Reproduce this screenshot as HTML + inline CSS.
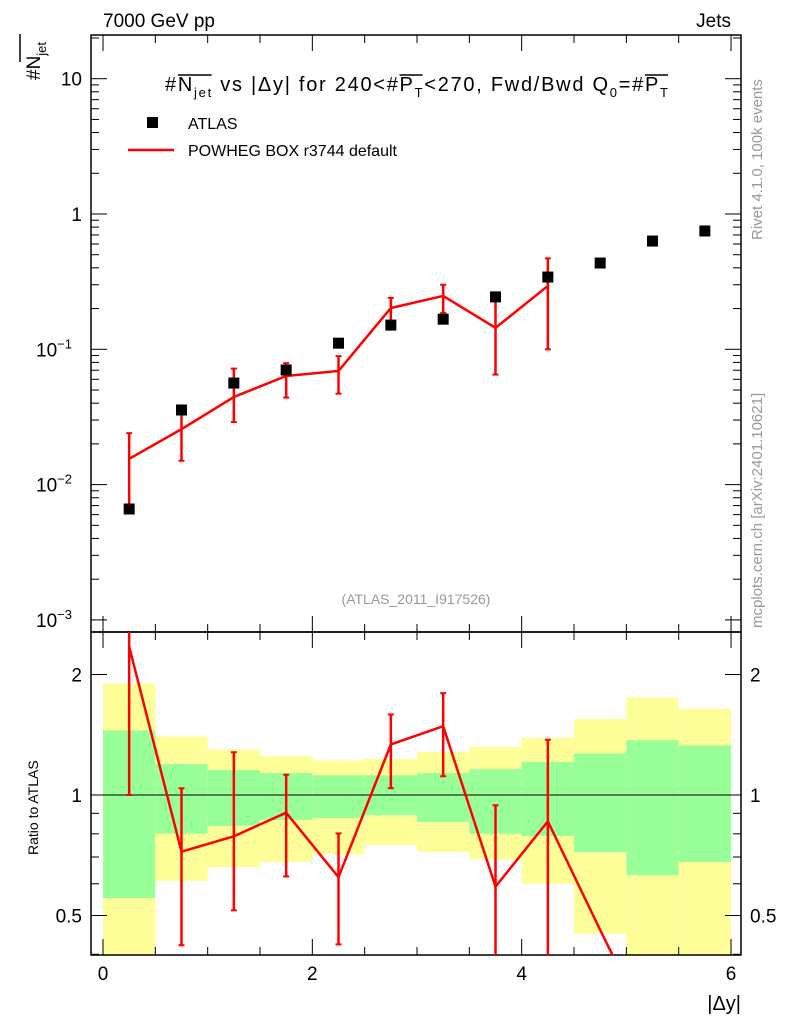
<!DOCTYPE html>
<html><head><meta charset="utf-8"><style>
body{margin:0;background:#fff;}
svg{display:block;font-family:"Liberation Sans",sans-serif;}
</style></head><body>
<svg id="c" width="786" height="1024" viewBox="0 0 786 1024"></svg>
<script>
const binCenters=[0.25,0.75,1.25,1.75,2.25,2.75,3.25,3.75,4.25,4.75,5.25,5.75];
const atlasValues=[0.0066,0.0356,0.0563,0.0703,0.111,0.151,0.167,0.244,0.342,0.434,0.631,0.749];
const mcValues=[0.0155,0.0257,0.0444,0.0635,0.0692,0.202,0.248,0.144,0.294];
const mcUp=[0.024,0.037,0.072,0.079,0.089,0.24,0.30,0.23,0.47];
const mcDown=[0.0066,0.015,0.029,0.044,0.047,0.157,0.186,0.065,0.10];
const ratioTail=[0.46,0.25];
const yellowUp=[1.90,1.40,1.30,1.25,1.22,1.23,1.28,1.32,1.39,1.55,1.75,1.64];
const yellowDown=[0.35,0.61,0.66,0.68,0.71,0.75,0.72,0.69,0.60,0.45,0.35,0.35];
const greenUp=[1.45,1.195,1.155,1.135,1.12,1.12,1.135,1.16,1.21,1.27,1.37,1.33];
const greenDown=[0.553,0.80,0.837,0.866,0.876,0.89,0.856,0.80,0.79,0.72,0.63,0.68];
const xTicks=[0,2,4,6];
const topTicks=[{v:10,t:"10"},{v:1,t:"1"},{v:0.1,t:"10",e:"−1"},{v:0.01,t:"10",e:"−2"},{v:0.001,t:"10",e:"−3"}];
const ratioTicks=[{v:2,t:"2"},{v:1,t:"1"},{v:0.5,t:"0.5"}];

const S=document.getElementById('c');const NS="http://www.w3.org/2000/svg";
function el(tag,a,p){const e=document.createElementNS(NS,tag);for(const k in a)e.setAttribute(k,a[k]);(p||S).appendChild(e);return e;}
const L=91,R=741,T=35,M=632,B=955;
const X=v=>103+v*104.67;
const Y=v=>214-Math.log10(v)*135.3;
const YR=v=>795-Math.log2(v)*120.5;
const defs=el('defs',{});
const cp1=el('clipPath',{id:'ct'},defs);el('rect',{x:L,y:T,width:R-L,height:M-T},cp1);
const cp2=el('clipPath',{id:'cr'},defs);el('rect',{x:L,y:M,width:R-L,height:B-M},cp2);

const bands=el('g',{'clip-path':'url(#cr)'});

binCenters.forEach((c,i)=>{
  const r1=el('rect',{x:X(c-0.25),y:YR(yellowUp[i]),width:X(c+0.25)-X(c-0.25),height:YR(yellowDown[i])-YR(yellowUp[i]),fill:'#ffff99'},bands);
  
  const r2=el('rect',{x:X(c-0.25),y:YR(greenUp[i]),width:X(c+0.25)-X(c-0.25),height:YR(greenDown[i])-YR(greenUp[i]),fill:'#99ff99'},bands);
  
});
el('line',{x1:L,x2:R,y1:YR(1),y2:YR(1),stroke:'#000','stroke-width':1});

const f1=el('rect',{x:L,y:T,width:R-L,height:M-T,fill:'none',stroke:'#000','stroke-width':1.5});

const f2=el('rect',{x:L,y:M,width:R-L,height:B-M,fill:'none',stroke:'#000','stroke-width':1.5});


[[T,M],[M,B]].forEach(([t,b])=>{
  for(let v=0;v<=6.01;v+=0.5){const big=Math.abs(v%2)<0.01;const len=big?16:8;
    el('line',{x1:X(v),x2:X(v),y1:b,y2:b-len,stroke:'#000'});el('line',{x1:X(v),x2:X(v),y1:t,y2:t+len,stroke:'#000'});}
});
xTicks.forEach(v=>{const t=el('text',{x:X(v),y:980,'font-size':19,'text-anchor':'middle'});t.textContent=v;
});
const xt=el('text',{x:741,y:1010,'font-size':20,'text-anchor':'end'});xt.textContent='|Δy|';


for(let d=-3;d<=1;d++){for(let m=1;m<10;m++){const v=m*Math.pow(10,d);const y=Y(v);if(y<T||y>M)continue;const len=m==1?16:8;
  el('line',{x1:L,x2:L+len,y1:y,y2:y,stroke:'#000'});el('line',{x1:R,x2:R-len,y1:y,y2:y,stroke:'#000'});}}
topTicks.forEach(o=>{const t=el('text',{x:o.e?72:82,y:Y(o.v)+7,'font-size':19,'text-anchor':'end'});t.textContent=o.t;
  if(o.e){const s=el('tspan',{dy:-8,'font-size':13},t);s.textContent=o.e;}
  });
[0.4,0.5,0.6,0.7,0.8,0.9,1,2].forEach(v=>{const y=YR(v);const len=(v==1||v==2||v==0.5)?16:8;
  el('line',{x1:L,x2:L+len,y1:y,y2:y,stroke:'#000'});el('line',{x1:R,x2:R-len,y1:y,y2:y,stroke:'#000'});});
ratioTicks.forEach(o=>{[[82,'end'],[750,'start']].forEach(([x,a])=>{const t=el('text',{x:x,y:YR(o.v)+7,'font-size':19,'text-anchor':a});t.textContent=o.t;
  });});

const gt=el('g',{'clip-path':'url(#ct)'});
const mcl=el('polyline',{points:mcValues.map((v,i)=>X(binCenters[i])+','+Y(v)).join(' '),fill:'none',stroke:'#f00','stroke-width':2.5},gt);

mcValues.forEach((v,i)=>{const x=X(binCenters[i]);
  const e=el('line',{x1:x,x2:x,y1:Y(mcUp[i]),y2:Y(mcDown[i]),stroke:'#f00','stroke-width':2.5},gt);
  
  el('line',{x1:x-3,x2:x+3,y1:Y(mcUp[i]),y2:Y(mcUp[i]),stroke:'#f00','stroke-width':2},gt);
  el('line',{x1:x-3,x2:x+3,y1:Y(mcDown[i]),y2:Y(mcDown[i]),stroke:'#f00','stroke-width':2},gt);});
atlasValues.forEach((v,i)=>{const r=el('rect',{x:X(binCenters[i])-5.5,y:Y(v)-5.5,width:11,height:11,fill:'#000'},gt);
  });

const gr=el('g',{'clip-path':'url(#cr)'});
const ratios=mcValues.map((v,i)=>v/atlasValues[i]).concat(ratioTail);
const rl=el('polyline',{points:ratios.map((v,i)=>X(binCenters[i])+','+YR(v)).join(' '),fill:'none',stroke:'#f00','stroke-width':2.5},gr);

mcValues.forEach((v,i)=>{const x=X(binCenters[i]);const u=mcUp[i]/atlasValues[i],d=mcDown[i]/atlasValues[i];
  const e=el('line',{x1:x,x2:x,y1:YR(u),y2:YR(d),stroke:'#f00','stroke-width':2.5},gr);
  
  el('line',{x1:x-3,x2:x+3,y1:YR(u),y2:YR(u),stroke:'#f00','stroke-width':2},gr);
  el('line',{x1:x-3,x2:x+3,y1:YR(d),y2:YR(d),stroke:'#f00','stroke-width':2},gr);});

function txt(x,y,s,str,name,extra){const t=el('text',Object.assign({x:x,y:y,'font-size':s},extra||{}));t.innerHTML=str;
  return t;}
txt(103,27,19,'7000 GeV pp','header-energy');
txt(731,27,19,'Jets','header-process',{'text-anchor':'end'});
txt(165,91,20,'#<tspan id="o1">N</tspan><tspan id="o1e" font-size="13" dy="6">jet</tspan><tspan dy="-6"> vs |Δy| for 240&lt;#</tspan><tspan id="o2">P</tspan><tspan id="o2e" font-size="13" dy="6">T</tspan><tspan dy="-6">&lt;270, Fwd/Bwd Q</tspan><tspan font-size="13" dy="6">0</tspan><tspan dy="-6">=#</tspan><tspan id="o3">P</tspan><tspan id="o3e" font-size="13" dy="6">T</tspan>','plot-title',{textLength:503,lengthAdjust:'spacing'});
['o1','o2','o3'].forEach(id=>{const a=document.getElementById(id).getBBox(),b=document.getElementById(id+'e').getBBox();
  const o=el('line',{x1:a.x,x2:b.x+b.width,y1:a.y+1,y2:a.y+1,stroke:'#000','stroke-width':1.5});
  
  });
const lg=el('rect',{x:147,y:117,width:11,height:11,fill:'#000'});
txt(188,129,16,'ATLAS','legend-atlas-label');
const ll=el('line',{x1:128,x2:174,y1:150,y2:150,stroke:'#f00','stroke-width':2.5});
txt(188,156,16,'POWHEG BOX r3744 default','legend-powheg-label');
txt(416,604,14,'(ATLAS_2011_I917526)','analysis-id',{'text-anchor':'middle',fill:'#999'});
txt(0,0,19,'#N<tspan font-size="13" dy="6">jet</tspan>','y-axis-title',{transform:'translate(40,80) rotate(-90)'});
const yo=el('line',{x1:20,x2:20,y1:34,y2:62,stroke:'#000','stroke-width':1.5});
txt(0,0,14,'Ratio to ATLAS','ratio-y-axis-title',{transform:'translate(38,855) rotate(-90)'});
txt(0,0,15,'Rivet 4.1.0,  100k events','rivet-version',{transform:'translate(762,240) rotate(-90)',fill:'#999','xml:space':'preserve'});
txt(0,0,15,'mcplots.cern.ch [arXiv:2401.10621]','mcplots-credit',{transform:'translate(762,628) rotate(-90)',fill:'#999'});
</script>
</body></html>
